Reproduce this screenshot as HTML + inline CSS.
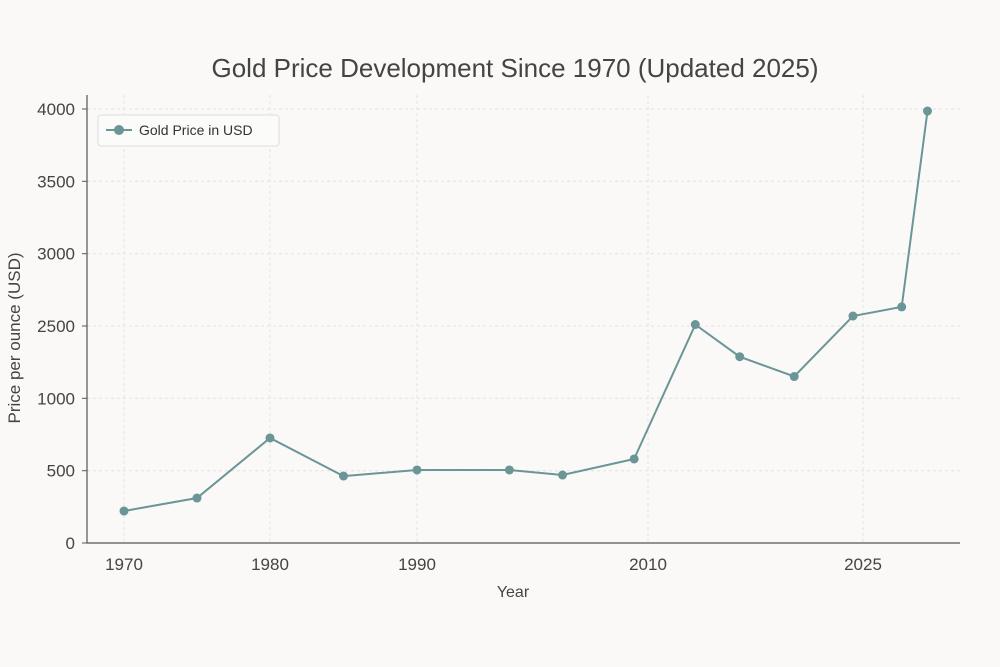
<!DOCTYPE html>
<html><head><meta charset="utf-8"><style>
html,body{margin:0;padding:0;background:#faf9f7;}
svg{display:block;font-family:"Liberation Sans","DejaVu Sans",sans-serif;}
</style></head><body>
<svg id="chart" width="1000" height="667" viewBox="0 0 1000 667">
<rect width="1000" height="667" fill="#faf9f7"/>
<text x="515" y="77" text-anchor="middle" font-size="26" fill="#444">Gold Price Development Since 1970 (Updated 2025)</text>
<g id="grid"></g>
<g id="axes"></g>
<g id="series"></g>
<text x="513" y="597" text-anchor="middle" font-size="16" fill="#444">Year</text>
<text transform="translate(20,338) rotate(-90)" text-anchor="middle" font-size="17" fill="#444">Price per ounce (USD)</text>
<g>
<rect x="98" y="115" width="181" height="31" rx="3" fill="#fbfbfa" stroke="#ddd"/>
<line x1="106" y1="130" x2="132" y2="130" stroke="#6b9597" stroke-width="2"/>
<circle cx="119" cy="130" r="5" fill="#6b9597"/>
<text x="139" y="135" font-size="14" fill="#333">Gold Price in USD</text>
</g>
</svg>
<script>
const years = [1970, 1975, 1980, 1985, 1990, 1998, 2002.6, 2008.8, 2013.3, 2016.4, 2020.2, 2024.3, 2027.7, 2029.5];
const prices = [221, 311, 726, 463, 505, 505, 470, 581, 2510, 1863, 1452, 2569, 2632, 3986];
const xTickValues = [1970, 1980, 1990, 2010, 2025];
const xTickLabels = ["1970", "1980", "1990", "2010", "2025"];
const yTickValues = [0, 500, 1000, 2500, 3000, 3500, 4000];
const yTickLabels = ["0", "500", "1000", "2500", "3000", "3500", "4000"];

const NS = "http://www.w3.org/2000/svg";
// piecewise axis scales (breakpoints = tick values mapped to evenly/irregularly spaced pixels)
const xBreakPx = [124, 270, 417, 648, 863];
const yBreakPx = [543, 470.7, 398.3, 326, 253.7, 181.3, 109];
function piece(v, dom, rng){
  let i = 0;
  while (i < dom.length - 2 && v > dom[i+1]) i++;
  const t = (v - dom[i]) / (dom[i+1] - dom[i]);
  return rng[i] + t * (rng[i+1] - rng[i]);
}
const xScale = v => piece(v, xTickValues, xBreakPx);
const yScale = v => piece(v, yTickValues, yBreakPx);
function mk(tag, attrs, parent){
  const e = document.createElementNS(NS, tag);
  for (const k in attrs) e.setAttribute(k, attrs[k]);
  parent.appendChild(e); return e;
}
const grid = document.getElementById("grid");
const axes = document.getElementById("axes");
const series = document.getElementById("series");

yTickValues.forEach((v, i) => {
  const y = yScale(v);
  if (i > 0) {
    const g = mk("line", {x1: 87, x2: 960, y1: y, y2: y, stroke: "#e2e2e0", "stroke-dasharray": "3,3"}, grid);
    
    
  }
  const t = mk("text", {x: 75, y: y + 6, "text-anchor": "end", "font-size": 17, fill: "#444"}, axes);
  t.textContent = yTickLabels[i];
  
  
  const tk = mk("line", {x1: 82, x2: 87, y1: y, y2: y, stroke: "#555"}, axes);
  
  
});
xTickValues.forEach((v, i) => {
  const x = xScale(v);
  const g = mk("line", {x1: x, x2: x, y1: 95, y2: 543, stroke: "#e2e2e0", "stroke-dasharray": "3,3"}, grid);
  
  
  const t = mk("text", {x: x, y: 570, "text-anchor": "middle", "font-size": 17, fill: "#444"}, axes);
  t.textContent = xTickLabels[i];
  
  
});
const ya = mk("line", {x1: 87, x2: 87, y1: 95, y2: 543, stroke: "#555", "stroke-width": 1.2}, axes);


const xa = mk("line", {x1: 87, x2: 960, y1: 543, y2: 543, stroke: "#555", "stroke-width": 1.2}, axes);



const pts = years.map((yr, i) => xScale(yr).toFixed(1) + "," + yScale(prices[i]).toFixed(1)).join(" ");
const pl = mk("polyline", {points: pts, fill: "none", stroke: "#6b9597", "stroke-width": 2}, series);


years.forEach((yr, i) => {
  const c = mk("circle", {cx: xScale(yr), cy: yScale(prices[i]), r: 4.5, fill: "#6b9597"}, series);
  
  
});
</script>
</body></html>
